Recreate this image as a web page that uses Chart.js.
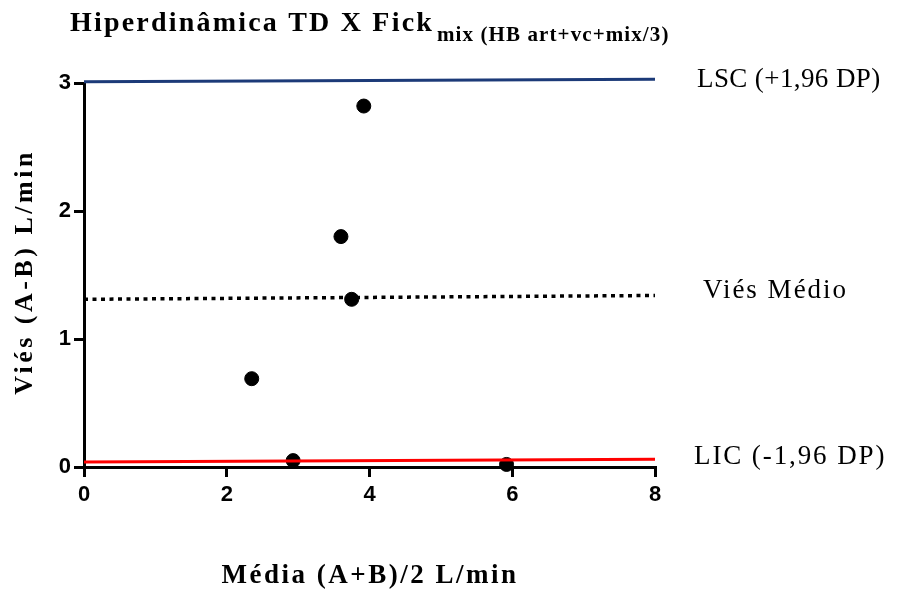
<!DOCTYPE html>
<html>
<head>
<meta charset="utf-8">
<script src="https://cdn.jsdelivr.net/npm/chart.js@4.4.1/dist/chart.umd.min.js"></script>
<style>
  html, body { margin: 0; padding: 0; background: #fff; }
  #wrap { width: 911px; height: 590px; position: relative; }
</style>
</head>
<body>
<div id="wrap"><canvas id="blandAltman"></canvas></div>
<script>
// mean of the two methods (x) and their difference (y)
const mediaAB = [3.92, 3.60, 3.75, 2.35, 2.93, 5.92];
const viesAB = [2.82, 1.80, 1.31, 0.69, 0.05, 0.02];

// reference lines, drawn from x = 0 to x = 8
const linhaX = [0, 8];
const lsc = [3.01, 3.03];
const viesMedio = [1.31, 1.34];
const lic = [0.04, 0.06];

const rotulos = ['LSC (+1,96 DP)', 'Viés Médio', 'LIC (-1,96 DP)'];
const tituloPrincipal = 'Hiperdinâmica TD X Fick';
const tituloSub = 'mix (HB art+vc+mix/3)';
const tituloX = 'Média (A+B)/2 L/min';
const tituloY = 'Viés (A-B) L/min';

const pares = (xs, ys) => xs.map((x, i) => ({ x: x, y: ys[i] }));

const serif = '"Liberation Serif", "Times New Roman", serif';
const sans = '"Liberation Sans", Arial, sans-serif';

const textos = {
	id: 'textos',
	afterDraw(chart) {
		const ctx = chart.ctx;
		const yScale = chart.scales.y;
		ctx.save();
		ctx.fillStyle = '#000';
		ctx.textBaseline = 'alphabetic';
		ctx.textAlign = 'left';

		// title with subscript
		ctx.font = 'bold 28px ' + serif;
		ctx.letterSpacing = '2.2px';
		ctx.fillText(tituloPrincipal, 70, 31);
		ctx.font = 'bold 21px ' + serif;
		ctx.letterSpacing = '1.1px';
		ctx.fillText(tituloSub, 437, 41);

		// x axis title
		ctx.font = 'bold 27px ' + serif;
		ctx.letterSpacing = '2.5px';
		ctx.textAlign = 'center';
		ctx.fillText(tituloX, 370, 583);

		// y axis title
		ctx.font = 'bold 26px ' + serif;
		ctx.letterSpacing = '3.5px';
		ctx.save();
		ctx.translate(32, 272);
		ctx.rotate(-Math.PI / 2);
		ctx.fillText(tituloY, 0, 0);
		ctx.restore();

		// labels at the right end of each line
		ctx.font = '27px ' + serif;
		ctx.textAlign = 'left';
		const fins = [lsc[1], viesMedio[1], lic[1]];
		const ajuste = [8, 3, 5];
		const xs = [697, 703, 694];
		const espaco = ['0.4px', '2px', '1.9px'];
		rotulos.forEach((t, i) => {
			ctx.letterSpacing = espaco[i];
			ctx.fillText(t, xs[i], yScale.getPixelForValue(fins[i]) + ajuste[i]);
		});
		ctx.restore();
	}
};

new Chart(document.getElementById('blandAltman'), {
	type: 'scatter',
	data: {
		datasets: [
			{
				data: pares(mediaAB, viesAB),
				backgroundColor: '#000',
				borderColor: '#000',
				pointRadius: 7,
				pointHoverRadius: 7,
				clip: false,
				order: 2,
			},
			{
				type: 'line',
				data: pares(linhaX, lsc),
				borderColor: '#1c3a78',
				borderWidth: 3,
				pointRadius: 0,
				clip: false,
				order: 1,
			},
			{
				type: 'line',
				data: pares(linhaX, viesMedio),
				borderColor: '#000',
				borderWidth: 3.5,
				borderDash: [4, 4.5],
				pointRadius: 0,
				clip: false,
				order: 1,
			},
			{
				type: 'line',
				data: pares(linhaX, lic),
				borderColor: '#ff0000',
				borderWidth: 3,
				pointRadius: 0,
				clip: false,
				order: 1,
			},
		],
	},
	options: {
		responsive: true,
		maintainAspectRatio: false,
		animation: false,
		layout: {
			padding: { top: 83, right: 256, left: 0, bottom: 0 },
		},
		plugins: {
			legend: { display: false },
			title: { display: false },
			tooltip: { enabled: false },
		},
		scales: {
			x: {
				type: 'linear',
				min: 0,
				max: 8,
				afterFit: (s) => { s.height = 123; },
				border: { color: '#000', width: 3 },
				grid: {
					drawOnChartArea: false,
					drawTicks: true,
					tickLength: 10,
					color: '#000',
					lineWidth: 3,
				},
				ticks: {
					stepSize: 2,
					padding: 5,
					color: '#000',
					font: { family: sans, weight: 'bold', size: 22 },
				},
			},
			y: {
				type: 'linear',
				min: 0,
				max: 3,
				afterFit: (s) => { s.width = 84; },
				border: { color: '#000', width: 3 },
				grid: {
					drawOnChartArea: false,
					drawTicks: true,
					tickLength: 10,
					color: '#000',
					lineWidth: 3,
				},
				ticks: {
					stepSize: 1,
					padding: 3,
					color: '#000',
					font: { family: sans, weight: 'bold', size: 22 },
				},
			},
		},
	},
	plugins: [textos],
});
</script>
</body>
</html>
